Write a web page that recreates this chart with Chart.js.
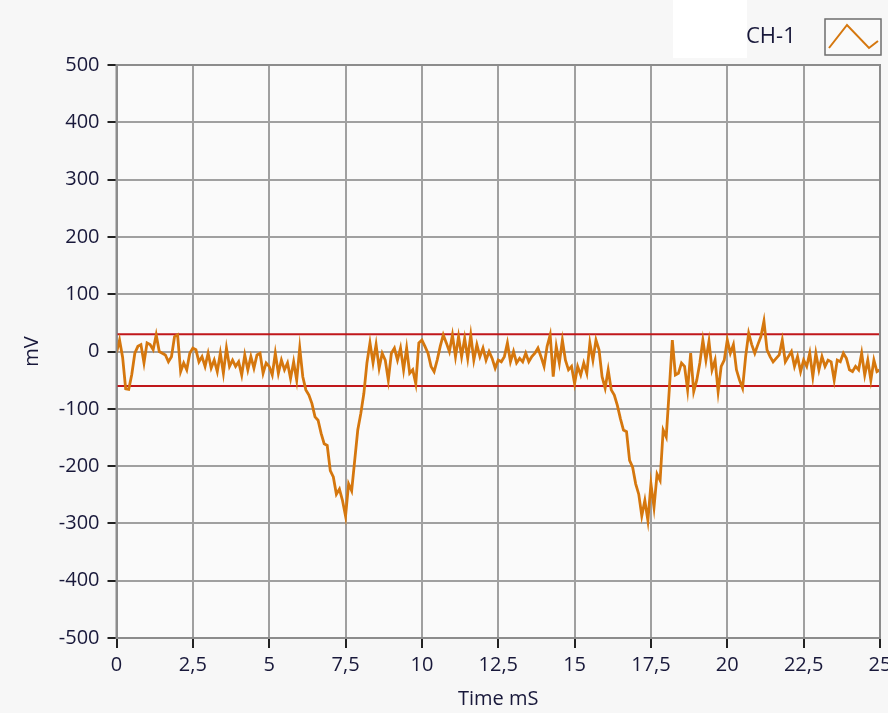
<!DOCTYPE html>
<html>
<head>
<meta charset="utf-8">
<script src="https://cdn.jsdelivr.net/npm/chart.js@4/dist/chart.umd.min.js"></script>
<style>
  html, body { margin: 0; padding: 0; background: #f7f7f7; }
  #c { display: block; }
</style>
</head>
<body>
<canvas id="c" width="888" height="713"></canvas>
<script>
// ---- data ----
const seriesName = 'CH-1';
const sampleInterval = 0.1; // ms between samples
const ch1 = [
  -2, 20, -10, -65, -66, -40, -3, 9, 12, -20,
  15, 12, 3, 29, 0, -3, -6, -18, -9, 26,
  29, -35, -20, -32, -3, 6, 3, -18, -9, -26,
  -3, -29, -15, -35, -3, -38, 6, -26, -15, -26,
  -18, -41, -6, -32, -9, -29, -6, -3, -38, -20,
  -26, -41, -3, -38, -15, -32, -20, -47, -18, -50,
  6, -44, -67, -76, -91, -114, -120, -143, -161, -164,
  -208, -219, -249, -240, -260, -287, -231, -243, -190, -137,
  -108, -73, -20, 15, -20, 12, -29, -3, -15, -50,
  -3, 6, -15, 6, -32, 6, -38, -32, -56, 15,
  20, 9, -3, -26, -35, -15, 9, 29, 15, 0,
  29, -9, 26, -9, 23, -12, 29, -15, 12, -9,
  6, -15, 0, -12, -29, -15, -18, -9, 15, -18,
  0, -20, -12, -18, -3, -18, -9, -3, 6, -9,
  -26, 9, 29, -44, 9, -20, 20, -15, -32, -26,
  -56, -26, -41, -20, -38, 15, -15, 20, 3, -44,
  -64, -32, -67, -76, -94, -117, -137, -140, -190, -202,
  -231, -249, -287, -260, -295, -231, -272, -214, -225, -137,
  -149, -67, 20, -41, -38, -20, -26, -67, -3, -70,
  -50, -20, 20, -15, 18, -32, -15, -70, -26, -15,
  20, -3, 12, -32, -50, -64, -9, 32, 12, -3,
  12, 26, 53, 3, -9, -18, -12, -6, 20, -18,
  -9, 0, -26, -9, -35, -15, -26, -3, -44, -3,
  -32, -9, -26, -15, -18, -50, -15, -18, -3, -12,
  -32, -35, -26, -32, -3, -41, -15, -50, -15, -35,
  -32
];
const limitUpper = 30;   // mV
const limitLower = -60;  // mV
const xTickLabels = ['0', '2,5', '5', '7,5', '10', '12,5', '15', '17,5', '20', '22,5', '25'];
const yTickLabels = ['-500', '-400', '-300', '-200', '-100', '0', '100', '200', '300', '400', '500'];
const xTitle = 'Time mS';
const yTitle = 'mV';

// ---- build ----
const xMin = 0, xMax = 25, yMin = -500, yMax = 500;
const points = ch1.map((v, i) => ({ x: +(i * sampleInterval).toFixed(2), y: v }));
const upperLine = [{ x: xMin, y: limitUpper }, { x: xMax, y: limitUpper }];
const lowerLine = [{ x: xMin, y: limitLower }, { x: xMax, y: limitLower }];

const FONT = "'Open Sans', 'Noto Sans', sans-serif";
const TEXT = '#18183a';
const ORANGE = '#d5770e';
const GRID = '#a0a0a0';

const bgPlugin = {
  id: 'bg',
  beforeDraw(chart) {
    const { ctx, chartArea: a } = chart;
    ctx.save();
    ctx.fillStyle = '#f7f7f7';
    ctx.fillRect(0, 0, chart.width, chart.height);
    ctx.fillStyle = '#ffffff';
    ctx.fillRect(673, 0, 74, 58);
    ctx.fillStyle = '#fafafa';
    ctx.fillRect(a.left, a.top, a.right - a.left, a.bottom - a.top);
    ctx.restore();
  },
  afterDraw(chart) {
    const { ctx, chartArea: a } = chart;
    ctx.save();
    // frame
    ctx.strokeStyle = '#8c8c8c';
    ctx.lineWidth = 2;
    ctx.strokeRect(a.left, a.top, a.right - a.left, a.bottom - a.top);
    // legend
    ctx.fillStyle = TEXT;
    ctx.font = "22px " + FONT;
    ctx.textBaseline = 'middle';
    ctx.textAlign = 'left';
    ctx.fillText(seriesName, 746, 37);
    ctx.fillStyle = '#fafafa';
    ctx.fillRect(825, 19, 56, 36);
    ctx.strokeStyle = '#6e6e6e';
    ctx.lineWidth = 1.5;
    ctx.strokeRect(825, 19, 56, 36);
    ctx.strokeStyle = ORANGE;
    ctx.lineWidth = 2;
    ctx.beginPath();
    ctx.moveTo(829, 48);
    ctx.lineTo(847, 25);
    ctx.lineTo(869, 48);
    ctx.lineTo(878, 41);
    ctx.stroke();
    ctx.restore();
  }
};

new Chart(document.getElementById('c'), {
  type: 'line',
  data: {
    datasets: [
      { label: 'upper', data: upperLine, borderColor: '#c0171b', borderWidth: 2, pointRadius: 0, order: 2 },
      { label: 'lower', data: lowerLine, borderColor: '#c0171b', borderWidth: 2, pointRadius: 0, order: 2 },
      { label: seriesName, data: points, borderColor: ORANGE, borderWidth: 2.8, pointRadius: 0, tension: 0, order: 1 }
    ]
  },
  options: {
    responsive: false,
    animation: false,
    events: [],
    layout: { padding: { top: 65, right: 8, left: 0, bottom: 0 } },
    plugins: { legend: { display: false }, tooltip: { enabled: false } },
    scales: {
      x: {
        type: 'linear', min: xMin, max: xMax,
        afterFit(s) { s.height = 75; s.paddingLeft = 0; s.paddingRight = 0; },
        ticks: {
          stepSize: 2.5, color: TEXT, padding: 5,
          font: { family: FONT, size: 20 },
          maxRotation: 0,
          callback(v) { const i = Math.round((v - xMin) / 2.5); return xTickLabels[i]; }
        },
        grid: { color: GRID, lineWidth: 2, tickColor: '#222', tickLength: 10 },
        border: { color: '#8c8c8c', width: 2 },
        title: { display: true, text: xTitle, color: TEXT, font: { family: FONT, size: 20 }, padding: { top: 0, bottom: 2 } }
      },
      y: {
        min: yMin, max: yMax,
        afterFit(s) { s.width = 116.5; s.paddingTop = 0; s.paddingBottom = 0; },
        ticks: {
          stepSize: 100, color: TEXT, padding: 8,
          font: { family: FONT, size: 20 },
          callback(v) { const i = Math.round((v - yMin) / 100); return yTickLabels[i]; }
        },
        grid: { color: GRID, lineWidth: 2, tickColor: '#222', tickLength: 9 },
        border: { color: '#8c8c8c', width: 2 },
        title: { display: true, text: yTitle, color: TEXT, font: { family: FONT, size: 20 }, padding: { top: 20, bottom: 0 } }
      }
    }
  },
  plugins: [bgPlugin]
});
</script>
</body>
</html>
